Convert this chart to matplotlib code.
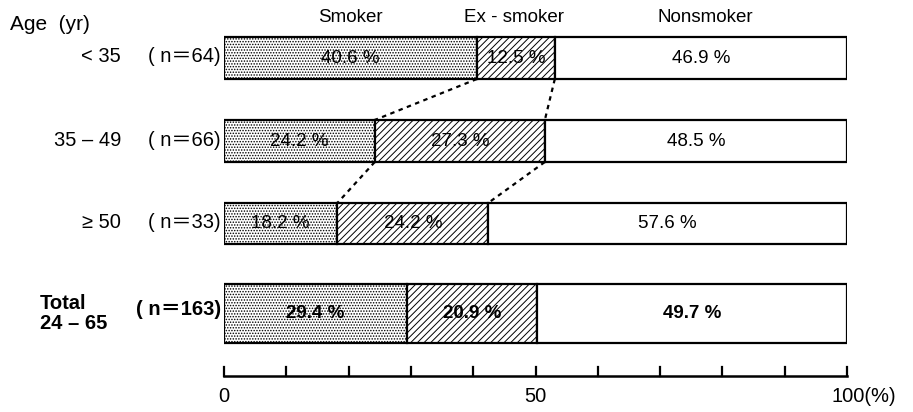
import matplotlib
matplotlib.use('Agg')
import matplotlib.pyplot as plt

plt.rcParams['font.family'] = ['Liberation Sans', 'Noto Sans CJK JP', 'DejaVu Sans']
plt.rcParams['hatch.linewidth'] = 0.7

# data
groups = ['< 35', '35 – 49', '≥ 50', 'Total\n24 – 65']
counts = ['( n＝64)', '( n＝66)', '( n＝33)', '( n＝163)']
smoker = [40.6, 24.2, 18.2, 29.4]
ex_smoker = [12.5, 27.3, 24.2, 20.9]
nonsmoker = [46.9, 48.5, 57.6, 49.7]
series_names = ['Smoker', 'Ex - smoker', 'Nonsmoker']

W, H = 913, 412
fig = plt.figure(figsize=(W / 100, H / 100), dpi=100)

# bar area in pixel units on y, percent on x
x0, x1 = 224, 847
ax = fig.add_axes([x0 / W, 0, (x1 - x0) / W, 1])
ax.set_xlim(0, 100)
ax.set_ylim(H, 0)
ax.axis('off')

y_mid = [58, 141, 223.5, 313.5]
heights = [42, 42, 41, 59]

hatches = ['......', '/////', '']
for i in range(len(groups)):
    left = 0
    for vals, hatch in zip([smoker, ex_smoker, nonsmoker], hatches):
        v = vals[i]
        ax.barh(y_mid[i], v, left=left, height=heights[i], color='white',
                edgecolor='black', hatch=hatch, linewidth=1.6)
        bold = 'bold' if i == 3 else 'normal'
        ax.text(left + v / 2, y_mid[i], f'{v} %', ha='center', va='center',
                fontsize=13.5, fontweight=bold)
        left += v

# dotted links between rows
for i in range(2):
    b1 = [smoker[i], smoker[i] + ex_smoker[i]]
    b2 = [smoker[i + 1], smoker[i + 1] + ex_smoker[i + 1]]
    for a, b in zip(b1, b2):
        ax.plot([a, b], [y_mid[i] + heights[i] / 2, y_mid[i + 1] - heights[i + 1] / 2],
                color='black', linestyle=(0, (2, 2)), linewidth=1.6)

# bottom scale
ax.plot([0, 100], [376, 376], color='black', linewidth=1.8, clip_on=False)
ticks = list(range(0, 101, 10))
for t in ticks:
    ax.plot([t, t], [376, 367], color='black', linewidth=1.6, clip_on=False)
ax.text(0, 396, '0', ha='center', va='center', fontsize=14.5)
ax.text(50, 396, '50', ha='center', va='center', fontsize=14.5)
ax.text(97.5, 396, '100(%)', ha='left', va='center', fontsize=14.5)

# headers
for name, xc in zip(series_names, [350, 514, 705]):
    fig.text(xc / W, 1 - 17 / H, name, ha='center', va='center', fontsize=13.5)
fig.text(10 / W, 1 - 24 / H, 'Age  (yr)', ha='left', va='center', fontsize=15)

# row labels
for i in range(3):
    fig.text(121 / W, 1 - (y_mid[i] - 1) / H, groups[i], ha='right', va='center', fontsize=14.5)
    fig.text(221 / W, 1 - (y_mid[i] - 1) / H, counts[i], ha='right', va='center', fontsize=14.5)
fig.text(40 / W, 1 - y_mid[3] / H, groups[3], ha='left', va='center', fontsize=14.5,
         fontweight='bold', linespacing=1.05)
fig.text(221 / W, 1 - (y_mid[3] - 4) / H, counts[3], ha='right', va='center', fontsize=14.5,
         fontweight='bold')

fig.savefig('out.png', dpi=100, facecolor='white')
